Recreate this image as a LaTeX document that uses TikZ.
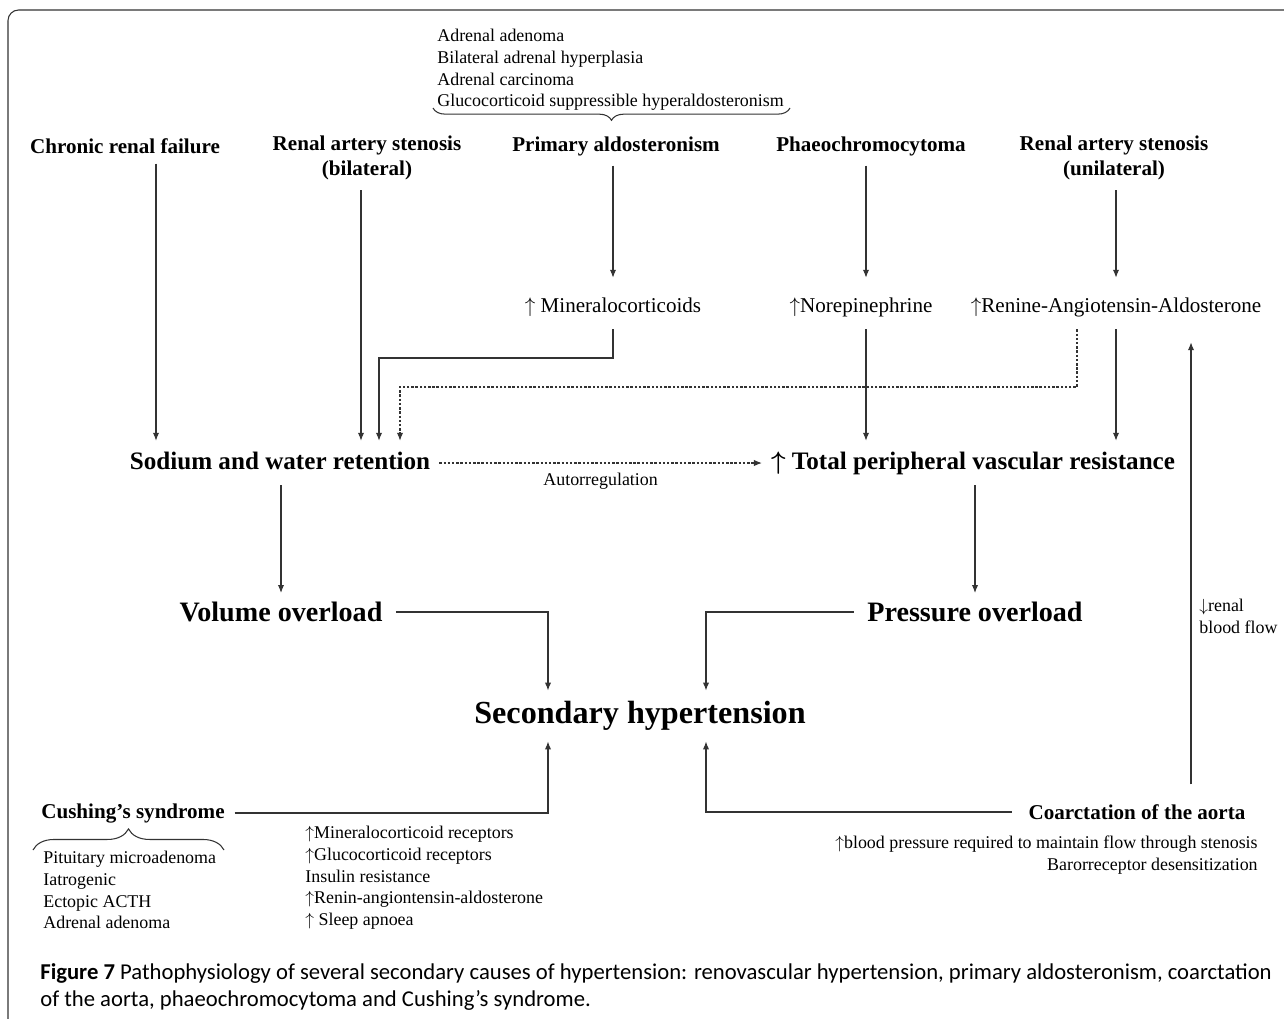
\documentclass[tikz,border=0pt]{standalone}
\usepackage{fontspec}
\setmainfont{Liberation Serif}
\newfontfamily\capfont{Carlito}
\usetikzlibrary{arrows.meta, decorations.pathreplacing, calc}
\newcommand\upar{$\uparrow$}
\newcommand\downar{$\downarrow$}

\begin{document}
\begin{tikzpicture}[
    x=0.02cm, y=-0.02cm,
    line/.style={draw=black!80, line width=0.6pt},
    arr/.style={line, -{Latex[length=4.5pt,width=3.6pt]}},
    dotline/.style={arr, dash pattern=on 1.4pt off 1pt},
    curly/.style={line, decorate, decoration={brace}},
    cause/.style={font=\fontsize{12}{14.2}\selectfont\bfseries, align=center, inner sep=5.5pt},
    effect/.style={font=\fontsize{12}{14}\selectfont, text height=9pt, text depth=3pt, inner sep=6.5pt},
    stage/.style={font=\fontsize{14.3}{17}\selectfont\bfseries, text height=10pt, text depth=3pt,
                  inner xsep=5pt, inner ysep=6pt},
    overload/.style={font=\fontsize{16}{19}\selectfont\bfseries, inner xsep=7.5pt, inner ysep=5pt},
    result/.style={font=\fontsize{18.3}{22}\selectfont\bfseries, inner sep=6pt},
    listing/.style={font=\fontsize{10.2}{12.3}\selectfont, align=left, inner sep=0pt}
]
    \useasboundingbox (0,0) rectangle (1284,1018);
    % Frame
    \draw[line, rounded corners=6pt] (8,1030) |- (1295,10);

    % Causes
    \node[cause] (crf) at (125,146) {Chronic renal failure};
    \node[cause] (rasb) at (367,158) {Renal artery stenosis\\(bilateral)};
    \node[cause] (pa) at (616,146) {Primary aldosteronism};
    \node[cause] (phaeo) at (871,146) {Phaeochromocytoma};
    \node[cause] (rasu) at (1114,158) {Renal artery stenosis\\(unilateral)};

    % Forms of primary aldosteronism
    \node[listing, anchor=north west] (palist) at (437,29)
        {Adrenal adenoma\\Bilateral adrenal hyperplasia\\Adrenal carcinoma\\Glucocorticoid suppressible hyperaldosteronism};
    \draw[curly, decoration={mirror, amplitude=7pt}] (433,108) -- (790,108);

    % Mediators
    \node[effect] (mineral) at (613,307) {\upar\ Mineralocorticoids};
    \node[effect] (norepi) at (861,307) {\upar Norepinephrine};
    \node[effect] (raa) at (1116,307) {\upar Renine-Angiotensin-Aldosterone};

    % Haemodynamics
    \node[stage] (sodium) at (280,463) {Sodium and water retention};
    \node[stage] (tpvr) at (973,463) {{\boldmath\upar}\ Total peripheral vascular resistance};
    \node[overload] (vol) at (281,612) {Volume overload};
    \node[overload] (press) at (975,612) {Pressure overload};
    \node[result] (sec) at (640,716) {Secondary hypertension};

    % Cushing and coarctation
    \node[cause] (cush) at (133,813) {Cushing’s syndrome};
    \node[cause, inner xsep=9.5pt] (coarc) at (1137,812) {Coarctation of the aorta};
    \node[listing, anchor=north west] (cushlist) at (43,851)
        {Pituitary microadenoma\\Iatrogenic\\Ectopic ACTH\\Adrenal adenoma};
    \draw[curly, decoration={amplitude=12pt}] (33,850) -- (224,850);
    \node[listing, anchor=north west] (cushfx) at (305,826)
        {\upar Mineralocorticoid receptors\\\upar Glucocorticoid receptors\\Insulin resistance\\\upar Renin-angiontensin-aldosterone\\\upar\ Sleep apnoea};
    \node[listing, align=right, anchor=north east] (coarcfx) at (1258,836)
        {\upar blood pressure required to maintain flow through stenosis\\Barorreceptor desensitization};
    \node[listing, anchor=north west] (flow) at (1199,599) {\downar renal\\blood flow};

    % Caption
    \node[listing, font=\capfont\fontsize{12.9}{15.4}\selectfont, anchor=north west] (caption) at (40,963)
        {\textbf{Figure 7} Pathophysiology of several secondary causes of hypertension: renovascular hypertension, primary aldosteronism, coarctation\\of the aorta, phaeochromocytoma and Cushing’s syndrome.};

    % Connector columns
    \coordinate (crfx) at (156,0);
    \coordinate (rasbx) at (361,0);
    \coordinate (minx) at (379,358);
    \coordinate (raax) at (400,387);
    \coordinate (raasplit) at (1077,0);
    \coordinate (phx) at (866,0);
    \coordinate (rasux) at (1116,0);
    \coordinate (volx) at (548,0);
    \coordinate (presx) at (706,0);
    \coordinate (flowx) at (1191,0);

    % Connectors
    \draw[arr] (crf.south -| crfx) -- (sodium.north -| crfx);
    \draw[arr] (rasb.south -| rasbx) -- (sodium.north -| rasbx);
    \draw[arr, shorten >=4pt] (pa.south -| mineral.north) -- (mineral.north);
    \draw[arr, shorten >=4pt] (phaeo.south -| phx) -- (norepi.north -| phx);
    \draw[arr, shorten >=4pt] (rasu.south -| rasux) -- (raa.north -| rasux);
    \draw[arr] (mineral.south) |- (minx) -- (sodium.north -| minx);
    \draw[dotline] (raa.south -| raasplit) |- (raax) -- (sodium.north -| raax);
    \draw[arr] (norepi.south -| phx) -- (tpvr.north -| phx);
    \draw[arr] (raa.south -| rasux) -- (tpvr.north -| rasux);
    \draw[dotline] (sodium) -- node[below, font=\fontsize{10.2}{12}\selectfont, inner sep=5.5pt] (autoreg) {Autorregulation} (tpvr);
    \draw[arr] (sodium.south -| vol) -- (vol.north);
    \draw[arr] (tpvr.south -| press) -- (press.north);
    \draw[arr] (vol.east) -| (sec.north -| volx);
    \draw[arr] (press.west) -| (sec.north -| presx);
    \draw[arr] (cush.east) -| (sec.south -| volx);
    \draw[arr] (coarc.west) -| (sec.south -| presx);
    \draw[arr, shorten <=5.7pt, shorten >=7.4pt] (coarc.north -| flowx) -- (raa.south -| flowx);
\end{tikzpicture}
\end{document}
